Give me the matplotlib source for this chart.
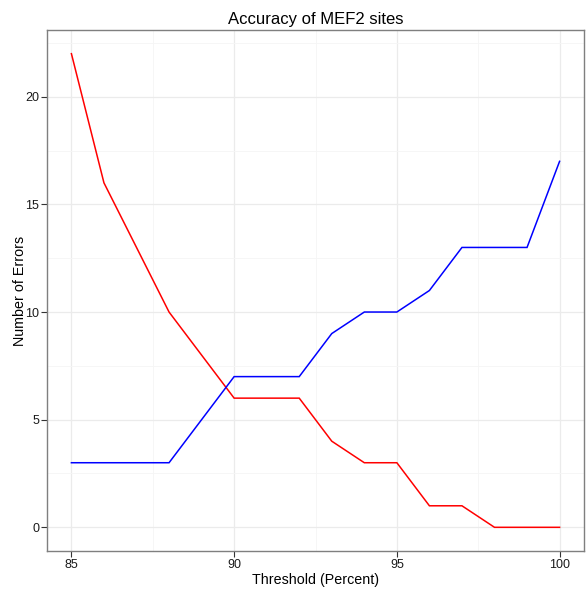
import matplotlib
matplotlib.use("Agg")
import matplotlib.pyplot as plt
from matplotlib.ticker import MultipleLocator

plt.rcParams['font.family'] = ['Liberation Sans', 'DejaVu Sans']

threshold = [85, 86, 87, 88, 89, 90, 91, 92, 93, 94, 95, 96, 97, 98, 99, 100]
errors_red = [22, 16, 13, 10, 8, 6, 6, 6, 4, 3, 3, 1, 1, 0, 0, 0]
errors_blue = [3, 3, 3, 3, 5, 7, 7, 7, 9, 10, 10, 11, 13, 13, 13, 17]
x_ticks = [85, 90, 95, 100]
y_ticks = [0, 5, 10, 15, 20]

W, H = 587, 592
fig = plt.figure(figsize=(W / 100, H / 100), dpi=100)
ax = fig.add_axes([47 / W, (H - 551) / H, (584 - 47) / W, (551 - 30) / H])

ax.plot(threshold, errors_red, color='#FF0000', lw=1.1, solid_joinstyle='miter')
ax.plot(threshold, errors_blue, color='#0000FF', lw=1.1, solid_joinstyle='miter')

ax.set_xlim(84.25, 100.75)
ax.set_ylim(-1.1, 23.1)
ax.set_xticks(x_ticks)
ax.set_yticks(y_ticks)
ax.xaxis.set_minor_locator(MultipleLocator(2.5))
ax.yaxis.set_minor_locator(MultipleLocator(2.5))
ax.grid(which='major', color='#EBEBEB', lw=0.9)
ax.grid(which='minor', color='#F5F5F5', lw=0.6)
ax.set_axisbelow(True)

for s in ax.spines.values():
    s.set_color('#7F7F7F')
    s.set_linewidth(1.0)
ax.tick_params(which='major', direction='out', length=4, width=0.8,
               color='#333333', labelsize=9, labelcolor='#1A1A1A', pad=1.5)
ax.tick_params(which='minor', length=0)

ax.set_title('Accuracy of MEF2 sites', fontsize=12, pad=4)
ax.set_xlabel('Threshold (Percent)', fontsize=10.3, labelpad=2)
ax.set_ylabel('Number of Errors', fontsize=10.3, labelpad=-1)

fig.savefig('out.png', dpi=100)
